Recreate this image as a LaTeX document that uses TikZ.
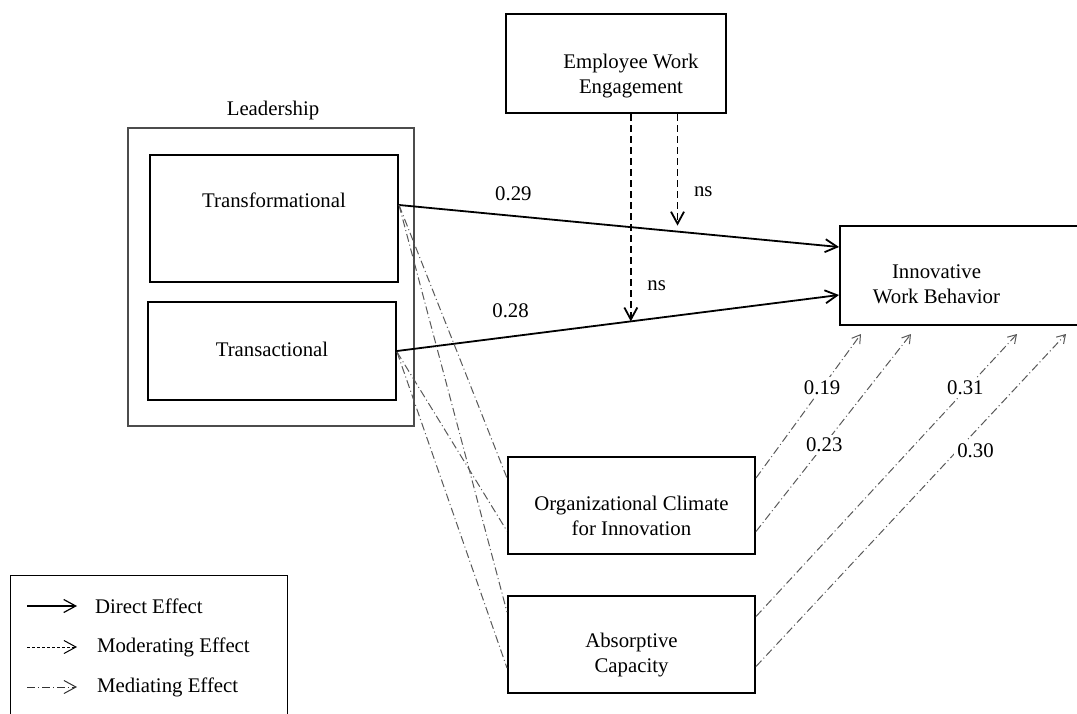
\documentclass[tikz,border=0pt]{standalone}
\usepackage{fontspec}
\setmainfont{Liberation Serif}
\usetikzlibrary{arrows.meta,calc}

\begin{document}
\begin{tikzpicture}[x=0.5pt,y=-0.5pt,
    font=\fontsize{10.4}{12.5}\selectfont,
    box/.style={draw, line width=1pt, inner sep=0pt},
    txt/.style={align=center},
    direct/.style={line width=0.9pt, -{Straight Barb[length=6pt,width=6.5pt]}},
    moder/.style={line width=0.9pt, dash pattern=on 3.5pt off 2pt, -{Straight Barb[length=6pt,width=6.5pt]}},
    medi/.style={line width=0.5pt, black!65, dash pattern=on 4pt off 1.5pt on 0.5pt off 1.5pt},
    mediarr/.style={medi, -{Straight Barb[length=4pt,width=5pt]}},
    coef/.style={fill=white, text=black, inner sep=1.5pt}]

    \useasboundingbox (0,0) rectangle (1077,713);
    \clip (0,0) rectangle (1077,713);

    % leadership
    \node[draw=black!70, line width=0.6pt, minimum width=143pt, minimum height=149pt] (lead) at (271,277) {};
    \node (leadlbl) at (273,110) {Leadership};
    \node[box, minimum width=124pt, minimum height=63.5pt, label={[txt,yshift=9pt]center:Transformational}] (transf) at (274,218.5) {};
    \node[box, minimum width=124pt, minimum height=49pt, label={[txt,yshift=1pt]center:Transactional}] (transac) at (272,351) {};

    % moderator, outcome, mediators
    \node[box, minimum width=110pt, minimum height=49.5pt, label={[txt,xshift=7.5pt,yshift=-6.5pt]center:Employee Work\\Engagement}] (ewe) at (616,63.5) {};
    \node[box, minimum width=122.5pt, minimum height=49.5pt, label={[txt,xshift=-13pt,yshift=-4.25pt]center:Innovative\\Work Behavior}] (iwb) at (962.5,275.5) {};
    \node[box, minimum width=123.5pt, minimum height=48.5pt, label={[txt,yshift=-5.25pt]center:Organizational Climate\\for Innovation}] (oci) at (631.5,505.5) {};
    \node[box, minimum width=123.5pt, minimum height=48.5pt, label={[txt,yshift=-5.25pt]center:Absorptive\\Capacity}] (ac) at (631.5,644.5) {};

    % direct effects
    \draw[direct] ([yshift=6.75pt]transf.east) -- node[pos=0.26, above=4pt] (d1) {0.29} coordinate[pos=0.633] (hit1) ([yshift=14.25pt]iwb.west);
    \draw[direct] (transac.east) -- node[pos=0.257, above=5.5pt] (d2) {0.28} coordinate[pos=0.529] (hit2) ([yshift=-9.75pt]iwb.west);

    % moderating effects
    \draw[moder] (ewe.south -| hit2) -- node[pos=0.83, right=4.5pt] (ns1) {ns} (hit2);
    \draw[moder, shorten >=3pt] (ewe.south -| hit1) -- node[pos=0.66, right=4.5pt] (ns2) {ns} (hit1);

    % mediating effects
    \foreach \src/\sy/\dst/\dy in {transf/6.75/oci/13.75, transf/6.75/ac/16.25, transac/-0.5/oci/-12.75, transac/-0.5/ac/-11.75}
        \draw[medi] ([yshift=\sy pt]\src.east) -- ([yshift=\dy pt]\dst.west);
    \foreach \n/\src/\sy/\dx/\val/\p/\xs in {1/oci/13.75/11/0.19/0.63/0, 2/oci/-13/36/0.23/0.44/0, 3/ac/14/89/0.31/0.81/-1, 4/ac/-11/113.5/0.30/0.65/9}
        \draw[mediarr] ([yshift=\sy pt]\src.east) -- node[coef, pos=\p, xshift=\xs pt] (m\n) {\val} ($(iwb.south west)+(\dx pt,-4pt)$);

    % legend
    \node[draw, line width=0.7pt, minimum width=138.5pt, minimum height=80pt, anchor=north west] (legend) at (10,575) {};
    \node[anchor=west] (ldir) at (88,606) {Direct Effect};
    \node[anchor=west] (lmod) at (90,647) {Moderating Effect};
    \node[anchor=west] (lmed) at (90,687) {Mediating Effect};
    \draw[direct, line width=0.6pt] ([xshift=-30.5pt]ldir.west) -- ([xshift=-5.5pt]ldir.west);
    \draw[moder, line width=0.5pt, dash pattern=on 1.5pt off 1pt] ([xshift=-31.5pt]lmod.west) -- ([xshift=-6.5pt]lmod.west);
    \draw[mediarr, black!80, -{Straight Barb[length=6pt,width=6.5pt]}] ([xshift=-31.5pt]lmed.west) -- ([xshift=-6.5pt]lmed.west);
\end{tikzpicture}
\end{document}
